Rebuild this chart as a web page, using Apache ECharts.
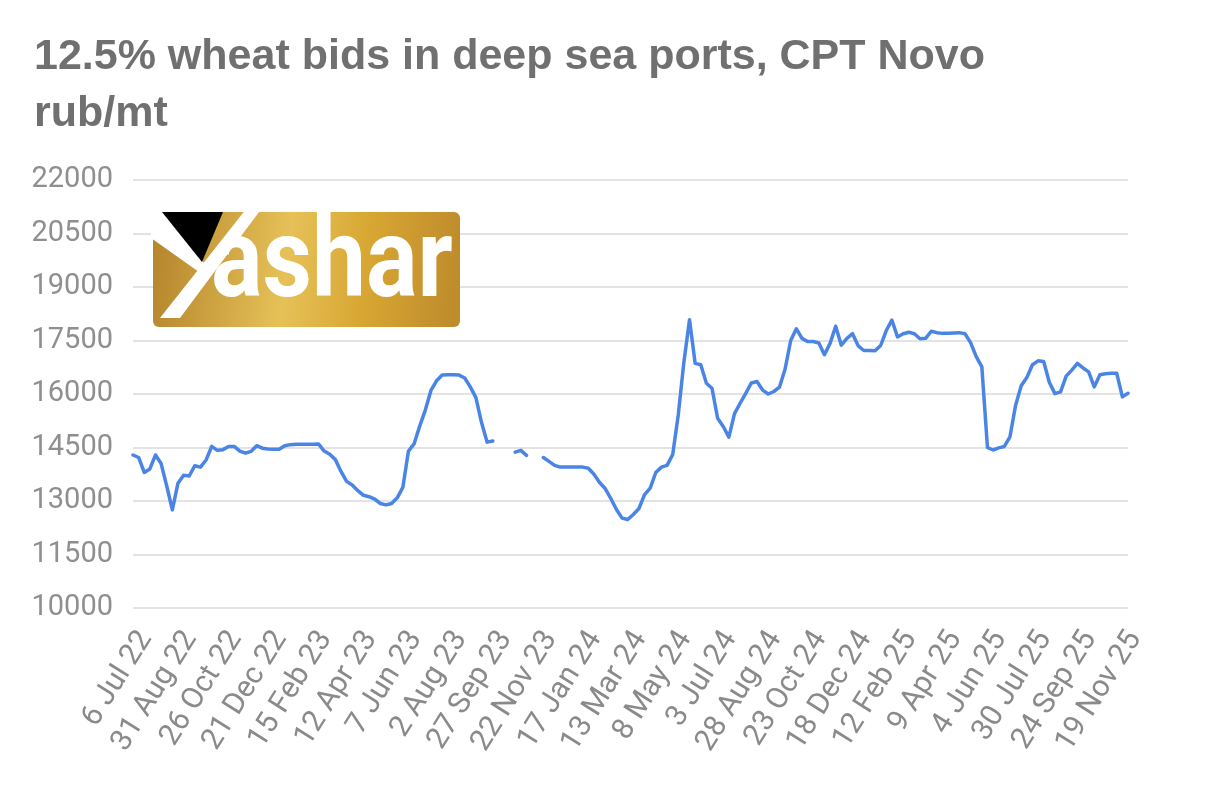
<!DOCTYPE html>
<html><head><meta charset="utf-8">
<script src="https://cdn.jsdelivr.net/npm/echarts@6/dist/echarts.min.js"></script>
<style>html,body{margin:0;padding:0;background:#fff}#c{width:1206px;height:791px}</style>
</head><body><div id="c"></div>
<script>
const titleLines = ['12.5% wheat bids in deep sea ports, CPT Novo', 'rub/mt'];
const firstWeek = [2022, 6, 6]; // 6 Jul 2022, weekly data
const tickLabels = ['6 Jul 22','31 Aug 22','26 Oct 22','21 Dec 22','15 Feb 23','12 Apr 23','7 Jun 23','2 Aug 23','27 Sep 23','22 Nov 23','17 Jan 24','13 Mar 24','8 May 24','3 Jul 24','28 Aug 24','23 Oct 24','18 Dec 24','12 Feb 25','9 Apr 25','4 Jun 25','30 Jul 25','24 Sep 25','19 Nov 25'];
const yMin = 10000, yMax = 22000, yStep = 1500;
const values = [
14290,14220,13800,13900,14290,14050,13420,12750,13500,13720,
13700,13990,13950,14150,14530,14420,14440,14530,14530,14400,
14340,14390,14550,14480,14460,14450,14450,14550,14580,14590,
14590,14590,14590,14600,14400,14310,14160,13830,13550,13450,
13290,13160,13120,13050,12930,12890,12930,13090,13380,14400,
14600,15100,15550,16100,16370,16530,16540,16540,16530,16450,
16200,15900,15200,14650,14680,null,null,null,14370,14420,
14280,null,null,14220,14110,14000,13950,13950,13950,13950,
13950,13920,13750,13520,13350,13070,12760,12520,12480,12620,
12790,13180,13360,13800,13950,14000,14300,15420,16900,18080,
16860,16820,16300,16160,15320,15090,14790,15450,15740,16020,
16310,16350,16110,16000,16070,16190,16700,17500,17830,17560,
17470,17470,17430,17100,17420,17900,17370,17560,17690,17350,
17220,17220,17210,17360,17780,18070,17600,17690,17730,17690,
17550,17560,17760,17720,17700,17700,17710,17720,17690,17440,
17050,16760,14500,14430,14490,14530,14800,15680,16230,16460,
16820,16930,16910,16330,16010,16060,16500,16670,16860,16730,
16620,16200,16540,16570,16580,16580,15920,16020
];
const monthNames = ['Jan','Feb','Mar','Apr','May','Jun','Jul','Aug','Sep','Oct','Nov','Dec'];
const categories = [];
for (let i = 0; i < values.length; i++) {
  const d = new Date(Date.UTC(firstWeek[0], firstWeek[1], firstWeek[2] + 7 * i));
  categories.push(d.getUTCDate() + ' ' + monthNames[d.getUTCMonth()] + ' ' + String(d.getUTCFullYear()).slice(2));
}

const chart = echarts.init(document.getElementById('c'), null, {renderer: 'canvas'});
chart.setOption({
  animation: false,
  backgroundColor: '#ffffff',
  title: {
    text: titleLines.join('\n'),
    left: 29, top: 24,
    textStyle: {fontFamily: 'Liberation Sans', fontWeight: 'bold', fontSize: 43, color: '#707070', lineHeight: 57}
  },
  grid: {left: 133, right: 78, top: 180, bottom: 183, containLabel: false},
  xAxis: {
    type: 'category', data: categories, boundaryGap: false,
    axisLine: {show: false}, axisTick: {show: false},
    axisLabel: {
      interval: function (idx, val) { return tickLabels.indexOf(val) >= 0; },
      rotate: 58, margin: 18, color: '#8a8a8a', fontFamily: 'Roboto', fontSize: 30,
      verticalAlign: 'top'
    },
    splitLine: {show: false}
  },
  yAxis: {
    type: 'value', min: yMin, max: yMax, interval: yStep,
    axisLine: {show: false}, axisTick: {show: false},
    axisLabel: {margin: 20, color: '#8f8f8f', fontFamily: 'Roboto', fontSize: 29,
      formatter: function (v) { return String(v); }},
    splitLine: {lineStyle: {color: '#e3e3e3', width: 2}}
  },
  series: [{
    type: 'line', data: values, showSymbol: false, connectNulls: false,
    lineStyle: {color: '#4a85e6', width: 3.5, join: 'round', cap: 'round'},
    z: 3
  }],
  graphic: [
    {type: 'rect', shape: {x: 153, y: 212, width: 307, height: 115, r: 6}, z: 10,
     style: {fill: new echarts.graphic.LinearGradient(0, 0, 1, 0.3, [
       {offset: 0, color: '#b4842b'}, {offset: 0.45, color: '#e6c158'},
       {offset: 0.7, color: '#d8a733'}, {offset: 1, color: '#bf8c2c'}])}},
    {type: 'polygon', z: 11, shape: {points: [[151, 210], [163, 210], [204, 263], [199, 272], [151, 238]]}, style: {fill: '#ffffff'}},
    {type: 'polygon', z: 12, shape: {points: [[162, 212], [223, 212], [202, 262]]}, style: {fill: '#000000'}},
    {type: 'polygon', z: 12, shape: {points: [[160, 318], [180, 318], [259, 212], [257, 197], [243, 213]]}, style: {fill: '#ffffff'}},
    {type: 'text', z: 13, x: 211, y: 268, scaleX: 0.86,
     style: {text: 'ashar', fill: '#ffffff', font: 'bold 112px Roboto', align: 'left', verticalAlign: 'middle'}}
  ]
});
</script>
</body></html>
